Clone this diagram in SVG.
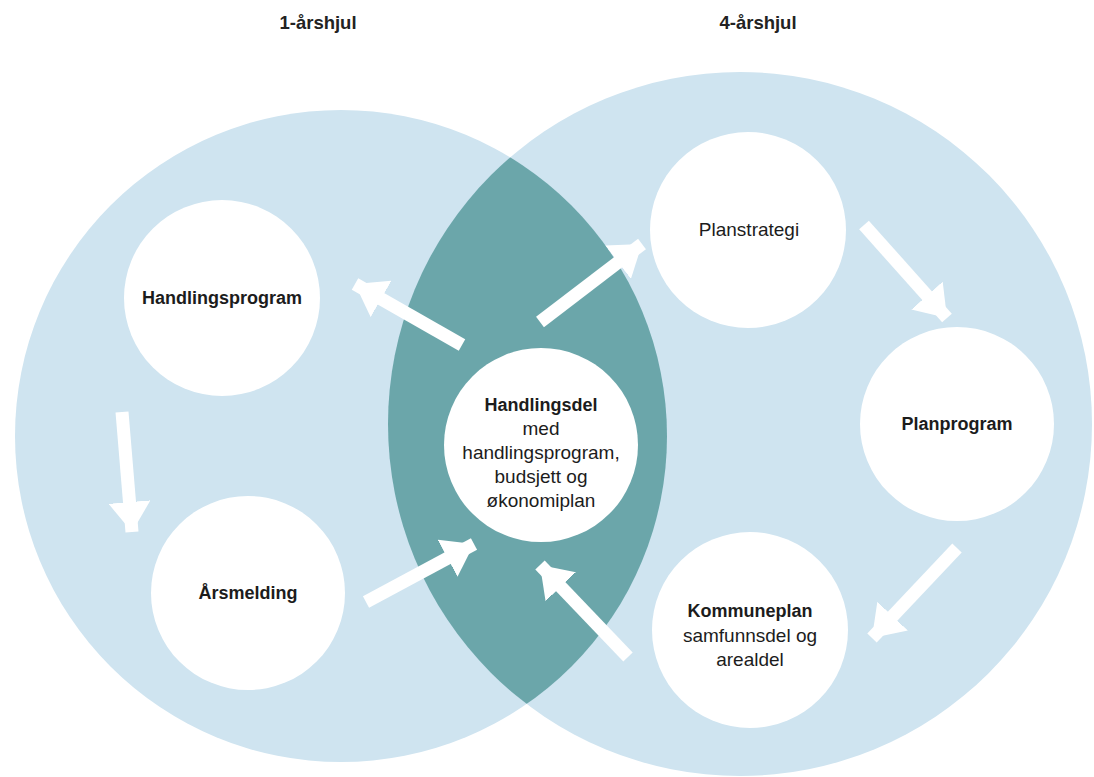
<svg xmlns="http://www.w3.org/2000/svg" width="1094" height="777" viewBox="0 0 1094 777">
  <style>
    .wheel { fill: #cfe4f0; }
    .lens { fill: #6ba6aa; }
    .node { fill: #ffffff; }
    .t { font-family: "Liberation Sans", Arial, sans-serif; fill: #1c1c1c; text-anchor: middle; }
    .b { font-weight: bold; font-size: 18px; }
    .r { font-size: 19px; }
    .title { font-family: "Liberation Sans", Arial, sans-serif; font-weight: bold; font-size: 18.5px; fill: #222; text-anchor: middle; }
    .arrow { stroke: #ffffff; stroke-width: 13; fill: none; marker-end: url(#head); }
  </style>
  <defs>
    <clipPath id="clipL"><circle cx="341" cy="436" r="326"/></clipPath>
    <marker id="head" markerUnits="userSpaceOnUse" markerWidth="32" markerHeight="42" refX="30" refY="21" orient="auto">
      <path d="M0,0 L30,21 L0,42 z" fill="#ffffff"/>
    </marker>
  </defs>
  <rect width="1094" height="777" fill="#ffffff"/>

  <g id="titles">
    <text class="title" x="318" y="29">1-årshjul</text>
    <text class="title" x="758" y="29">4-årshjul</text>
  </g>

  <g id="wheels">
    <circle id="wheel-1" class="wheel" cx="341" cy="436" r="326"/>
    <circle id="wheel-4" class="wheel" cx="740" cy="424" r="352"/>
    <circle id="overlap" class="lens" cx="740" cy="424" r="352" clip-path="url(#clipL)"/>
  </g>

  <g id="connectors">
    <path class="arrow" d="M462,345 L355,284"/>
    <path class="arrow" d="M540,322 L642,244"/>
    <path class="arrow" d="M122,412 L132,532"/>
    <path class="arrow" d="M366,602 L474,544"/>
    <path class="arrow" d="M628,657 L540,565"/>
    <path class="arrow" d="M864,225 L947,318"/>
    <path class="arrow" d="M957,548 L872,638"/>
  </g>

  <g id="node-handlingsprogram">
    <circle class="node" cx="222" cy="298" r="98"/>
    <text class="t b" x="222" y="304">Handlingsprogram</text>
  </g>
  <g id="node-arsmelding">
    <circle class="node" cx="248" cy="593" r="97"/>
    <text class="t b" x="248" y="599">Årsmelding</text>
  </g>
  <g id="node-handlingsdel">
    <circle class="node" cx="541" cy="445" r="97"/>
    <text class="t b" x="541" y="411">Handlingsdel</text>
    <text class="t r" x="541" y="435">med</text>
    <text class="t r" x="541" y="459">handlingsprogram,</text>
    <text class="t r" x="541" y="483">budsjett og</text>
    <text class="t r" x="541" y="507">økonomiplan</text>
  </g>
  <g id="node-planstrategi">
    <circle class="node" cx="748" cy="230" r="98"/>
    <text class="t r" x="749" y="236">Planstrategi</text>
  </g>
  <g id="node-planprogram">
    <circle class="node" cx="957" cy="424" r="97"/>
    <text class="t b" x="957" y="430">Planprogram</text>
  </g>
  <g id="node-kommuneplan">
    <circle class="node" cx="750" cy="630" r="98"/>
    <text class="t b" x="750" y="617">Kommuneplan</text>
    <text class="t r" x="750" y="642">samfunnsdel og</text>
    <text class="t r" x="750" y="666">arealdel</text>
  </g>
</svg>
